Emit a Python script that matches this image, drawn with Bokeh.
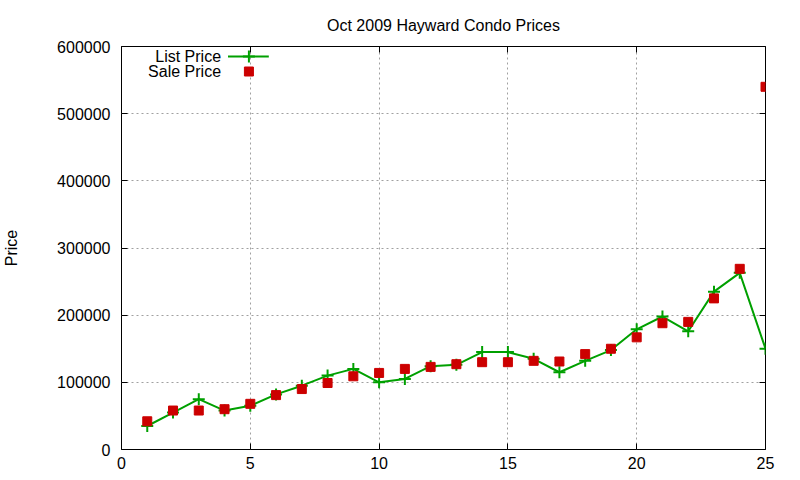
from bokeh.plotting import figure
from bokeh.models import Range1d, FixedTicker, BasicTickFormatter, LinearAxis, Label, ColumnDataSource
from bokeh.embed import file_html
from bokeh.resources import INLINE

# ---- data ----
lot = list(range(1, 26))
list_price = [35000, 55000, 75000, 58000, 65000, 82000, 95000, 110000, 120000, 100000,
              105000, 124000, 126000, 145000, 145000, 135000, 115000, 132000, 148000, 179000,
              198000, 176000, 235000, 263000, 150000]
sale_price = [42000, 58000, 58000, 60000, 68000, 81000, 90000, 99000, 109000, 114000,
              120000, 123000, 127000, 130000, 130000, 132000, 131000, 142000, 150000, 167000,
              188000, 190000, 225000, 269000, 540000]
x_ticks = [0, 5, 10, 15, 20, 25]
y_ticks = [0, 100000, 200000, 300000, 400000, 500000, 600000]
title_text = "Oct 2009 Hayward Condo Prices"
y_label = "Price"
series_names = ["List Price", "Sale Price"]

FONT = "Liberation Sans"
FS = "16px"
GREEN = "#00a000"
RED = "#cc0000"

L, R, T, B = 118, 765, 46, 449

p = figure(width=800, height=480, output_backend="svg", toolbar_location=None,
           x_range=Range1d(0, 25), y_range=Range1d(0, 600000),
           min_border_left=L, min_border_right=800 - R, min_border_top=T, min_border_bottom=480 - B,
           title=title_text)
p.title.align = "center"
p.title.text_font = FONT
p.title.text_font_size = FS
p.title.text_font_style = "normal"
p.title.text_color = "black"
p.title.standoff = 26

p.outline_line_color = "black"
p.outline_line_width = 1
p.background_fill_color = "white"
p.border_fill_color = "white"

def style_axis(ax, ticks, labels=True):
    ax.axis_line_color = None
    ax.major_tick_in = 6
    ax.major_tick_out = 0
    ax.major_tick_line_color = "black"
    ax.minor_tick_line_color = None
    ax.major_label_text_font = FONT
    ax.major_label_text_font_size = FS
    ax.major_label_text_color = "black"
    ax.major_label_standoff = 7
    if not labels:
        ax.major_label_overrides = {t: "" for t in ticks}
        ax.major_label_standoff = 0

xa = p.xaxis[0]
xa.ticker = FixedTicker(ticks=x_ticks)
style_axis(xa, x_ticks)
ya = p.yaxis[0]
ya.ticker = FixedTicker(ticks=y_ticks)
ya.formatter = BasicTickFormatter(use_scientific=False)
style_axis(ya, y_ticks)
ya.major_label_standoff = 11
ya.axis_label = y_label
ya.axis_label_text_font = FONT
ya.axis_label_text_font_size = FS
ya.axis_label_text_font_style = "normal"
ya.axis_label_text_color = "black"
ya.axis_label_standoff = 34

top = LinearAxis(ticker=FixedTicker(ticks=x_ticks))
style_axis(top, x_ticks, labels=False)
p.add_layout(top, "above")
right = LinearAxis(ticker=FixedTicker(ticks=y_ticks))
style_axis(right, y_ticks, labels=False)
p.add_layout(right, "right")

for g in (p.xgrid[0], p.ygrid[0]):
    g.grid_line_color = "#a0a0a0"
    g.grid_line_dash = "2 3"
    g.grid_line_width = 1
p.xgrid[0].ticker = FixedTicker(ticks=x_ticks)
p.ygrid[0].ticker = FixedTicker(ticks=y_ticks)

src = ColumnDataSource(dict(x=lot, lp=list_price, sp=sale_price))
p.line("x", "lp", source=src, line_color=GREEN, line_width=2)
p.scatter("x", "lp", source=src, marker="cross", size=12, line_color=GREEN, line_width=2)
p.scatter("x", "sp", source=src, marker="square", size=9, fill_color=RED, line_color=RED)

# ---- legend (gnuplot style: text right-aligned, sample to the right) ----
def dx(px):
    return (px - L) / (R - L) * 25
def dy(py):
    return (B - py) / (B - T) * 600000

p.add_layout(Label(x=dx(218), y=dy(56), text=series_names[0], text_align="right", text_baseline="middle",
                   text_font=FONT, text_font_size=FS, text_color="black"))
p.add_layout(Label(x=dx(218), y=dy(71), text=series_names[1], text_align="right", text_baseline="middle",
                   text_font=FONT, text_font_size=FS, text_color="black"))
p.line([dx(225), dx(266)], [dy(56), dy(56)], line_color=GREEN, line_width=2)
p.scatter([dx(246)], [dy(56)], marker="cross", size=12, line_color=GREEN, line_width=2)
p.scatter([dx(246)], [dy(71)], marker="square", size=9, fill_color=RED, line_color=RED)

open("out.html", "w").write(file_html(p, INLINE))
